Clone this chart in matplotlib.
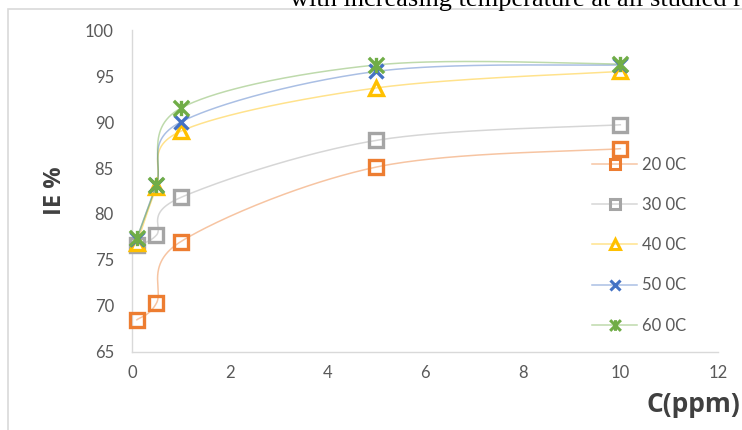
import numpy as np
import matplotlib
matplotlib.use("Agg")
import matplotlib.pyplot as plt
from matplotlib.path import Path
from matplotlib.lines import Line2D
from matplotlib.patches import Rectangle

# ---- data ----
conc = [0.1, 0.5, 1, 5, 10]
labels = ["20 0C", "30 0C", "40 0C", "50 0C", "60 0C"]
ie_20 = [68.5, 70.3, 77.0, 85.1, 87.1]
ie_30 = [76.6, 77.7, 81.8, 88.0, 89.7]
ie_40 = [76.8, 82.9, 89.0, 93.7, 95.5]
ie_50 = [77.3, 83.2, 90.0, 95.5, 96.2]
ie_60 = [77.4, 83.2, 91.5, 96.2, 96.3]
series = [ie_20, ie_30, ie_40, ie_50, ie_60]
xticks = [0, 2, 4, 6, 8, 10, 12]
yticks = [65, 70, 75, 80, 85, 90, 95, 100]

colors = ["#ED7D31", "#A5A5A5", "#FFC000", "#4472C4", "#70AD47"]
star = Path([(-1, -1), (1, 1), (-1, 1), (1, -1), (0, -1), (0, 1)],
            [Path.MOVETO, Path.LINETO, Path.MOVETO, Path.LINETO, Path.MOVETO, Path.LINETO])
markers = ["s", "s", "^", "x", star]
msizes = [10, 10, 10, 10, 11]

fig = plt.figure(figsize=(7.42, 4.30), dpi=100)
fig.patch.set_facecolor("white")
ax = fig.add_axes([132/742, 1-352/430, (718-132)/742, (352-30)/430])
ax.set_xlim(0, 12)
ax.set_ylim(65, 100)
ax.set_xticks(xticks)
ax.set_yticks(yticks)
for s in ["top", "right"]:
    ax.spines[s].set_visible(False)
for s in ["left", "bottom"]:
    ax.spines[s].set_color("#d9d9d9")
    ax.spines[s].set_linewidth(1)
ax.tick_params(length=0, labelsize=12, labelcolor="#595959")
ax.tick_params(axis="y", pad=13)
ax.tick_params(axis="x", pad=9)
for t in ax.get_xticklabels() + ax.get_yticklabels():
    t.set_family("Lato")

# frame of the chart object
fig.patches.append(Rectangle((8/742, -0.1), 1.2, 1-9/430+0.1, transform=fig.transFigure,
                             fill=False, edgecolor="#d9d9d9", lw=1.2, zorder=0))
fig.text(290/742, 1-6/430, "with increasing temperature at all studied r",
         family="Liberation Serif", fontsize=19, color="black", va="baseline")

def smooth(xs, ys, n=60):
    pts = ax.transData.transform(np.column_stack([xs, ys]))
    P = np.vstack([pts[0], pts, pts[-1]])
    out = []
    for i in range(1, len(P) - 2):
        p0, p1, p2, p3 = P[i-1], P[i], P[i+1], P[i+2]
        c1 = p1 + (p2 - p0) / 6
        c2 = p2 - (p3 - p1) / 6
        t = np.linspace(0, 1, n)[:, None]
        seg = (1-t)**3*p1 + 3*(1-t)**2*t*c1 + 3*(1-t)*t**2*c2 + t**3*p2
        out.append(seg)
    out = np.vstack(out)
    return ax.transData.inverted().transform(out)

handles = []
for ys, c, m, ms, lab in zip(series, colors, markers, msizes, labels):
    curve = smooth(conc, ys)
    ax.plot(curve[:, 0], curve[:, 1], color=c, alpha=0.45, lw=1.1, zorder=2)
    ax.plot(conc, ys, ls="none", marker=m, markersize=ms, markerfacecolor="none",
            markeredgecolor=c, markeredgewidth=2.4, zorder=3, clip_on=False)
    rgba = matplotlib.colors.to_rgba(c, 0.45)
    handles.append(Line2D([], [], color=rgba, lw=1.1, marker=m, markersize=ms*0.7,
                          markerfacecolor="none", markeredgecolor=c, markeredgewidth=2.2))

leg = ax.legend(handles, labels, loc="upper left", bbox_to_anchor=(577/742, 1-142/430),
                bbox_transform=fig.transFigure, frameon=False, handlelength=2.7,
                labelspacing=1.45, handletextpad=0.3, prop={"family": "Lato", "size": 12})
for t in leg.get_texts():
    t.set_color("#595959")

fig.text(55/742, 1-191/430, "IE %", rotation=90, fontsize=17, fontweight="bold",
         color="#404040", family="Open Sans", ha="center", va="center")
fig.text(740/742, 1-405/430, "C(ppm)", fontsize=19, fontweight="bold",
         color="#404040", family="Open Sans", ha="right", va="center")

fig.savefig("out.png", dpi=100, facecolor="white")
